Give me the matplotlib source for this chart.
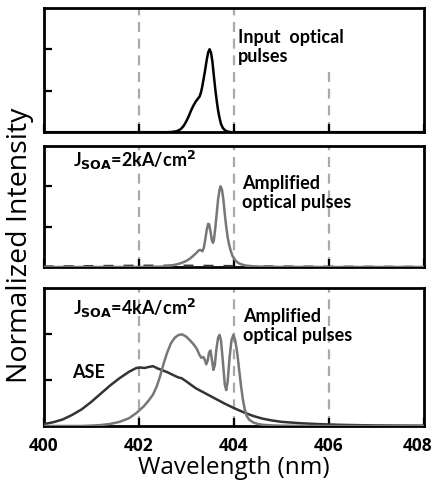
import numpy as np
import matplotlib
matplotlib.use('Agg')
import matplotlib.pyplot as plt
import matplotlib.transforms as mtransforms

# panel 1: input optical pulses
wl_in = [400.0, 402.6, 402.7, 402.8, 402.85, 402.9, 402.95, 403.0, 403.05, 403.1, 403.15, 403.2,
         403.24, 403.28, 403.31, 403.34, 403.37, 403.4, 403.43, 403.46, 403.49, 403.52, 403.55,
         403.58, 403.61, 403.64, 403.67, 403.7, 403.73, 403.77, 403.82, 403.88, 403.95, 408.0]
i_in = [0.0, 0.0, 0.003, 0.012, 0.025, 0.045, 0.08, 0.13, 0.19, 0.26, 0.32, 0.37,
        0.40, 0.43, 0.48, 0.56, 0.66, 0.76, 0.87, 0.96, 1.0, 0.96, 0.85,
        0.68, 0.52, 0.38, 0.26, 0.17, 0.10, 0.05, 0.02, 0.006, 0.0, 0.0]

# panel 2: amplified pulses at 2 kA/cm2
wl_a2 = [400.0, 402.0, 402.3, 402.5, 402.6, 402.7, 402.8, 402.9, 403.0, 403.08, 403.15, 403.22,
         403.27, 403.31, 403.34, 403.37, 403.4, 403.43, 403.46, 403.48, 403.51, 403.54, 403.56,
         403.58, 403.61, 403.64, 403.67, 403.7, 403.72, 403.75, 403.78, 403.81, 403.84, 403.87,
         403.9, 403.93, 403.97, 404.02, 404.08, 404.15, 404.25, 404.4, 404.6, 405.0, 406.0, 408.0]
i_a2 = [0.0, 0.0, 0.002, 0.006, 0.012, 0.02, 0.033, 0.05, 0.075, 0.105, 0.14, 0.18,
        0.21, 0.21, 0.195, 0.24, 0.34, 0.46, 0.535, 0.53, 0.44, 0.33, 0.30,
        0.33, 0.48, 0.66, 0.84, 0.96, 1.0, 0.96, 0.84, 0.66, 0.50, 0.37,
        0.28, 0.21, 0.14, 0.09, 0.055, 0.035, 0.018, 0.009, 0.004, 0.001, 0.0, 0.0]
wl_ase2 = [400.0, 401.0, 402.0, 403.0, 404.0, 405.0, 406.0, 408.0]
i_ase2 = [0.005, 0.01, 0.015, 0.015, 0.01, 0.004, 0.002, 0.0]

# panel 3: 4 kA/cm2
wl_ase = [400.0, 400.2, 400.4, 400.6, 400.8, 401.0, 401.2, 401.4, 401.6, 401.8, 401.95, 402.05,
          402.12, 402.2, 402.3, 402.4, 402.5, 402.6, 402.7, 402.8, 402.85, 402.9, 403.0, 403.2,
          403.4, 403.6, 403.8, 404.0, 404.2, 404.4, 404.6, 404.8, 405.0, 405.4, 405.8, 406.2,
          406.6, 407.0, 407.5, 408.0]
i_ase = [0.02, 0.04, 0.07, 0.12, 0.18, 0.26, 0.35, 0.44, 0.52, 0.59, 0.63, 0.635,
         0.63, 0.64, 0.65, 0.625, 0.605, 0.585, 0.56, 0.535, 0.525, 0.52, 0.485, 0.41,
         0.355, 0.30, 0.245, 0.195, 0.15, 0.11, 0.08, 0.06, 0.045, 0.03, 0.02, 0.013,
         0.009, 0.006, 0.004, 0.003]
wl_a4 = [400.0, 400.8, 401.0, 401.2, 401.4, 401.6, 401.8, 401.95, 402.1, 402.2, 402.3, 402.38,
         402.45, 402.52, 402.6, 402.68, 402.76, 402.84, 402.92, 403.0, 403.08, 403.15, 403.22,
         403.28, 403.32, 403.36, 403.39, 403.42, 403.45, 403.48, 403.51, 403.54, 403.57, 403.6,
         403.63, 403.67, 403.7, 403.73, 403.77, 403.81, 403.84, 403.87, 403.91, 403.95, 403.99,
         404.03, 404.07, 404.11, 404.15, 404.19, 404.23, 404.27, 404.32, 404.4, 404.5, 404.62,
         404.8, 405.0, 406.0, 408.0]
i_a4 = [0.0, 0.0, 0.004, 0.01, 0.022, 0.045, 0.085, 0.14, 0.21, 0.27, 0.34, 0.43,
        0.54, 0.67, 0.80, 0.90, 0.96, 0.99, 0.995, 0.97, 0.93, 0.89, 0.84,
        0.77, 0.74, 0.75, 0.72, 0.67, 0.71, 0.80, 0.82, 0.72, 0.61, 0.66,
        0.82, 0.96, 0.99, 0.93, 0.70, 0.45, 0.39, 0.48, 0.74, 0.93, 0.99,
        0.93, 0.80, 0.62, 0.44, 0.29, 0.18, 0.11, 0.07, 0.04, 0.022, 0.012,
        0.006, 0.003, 0.0, 0.0]

xticks = [400, 402, 404, 406, 408]
xticklabels = ['400', '402', '404', '406', '408']
grid_x = [402, 404, 406]

plt.rcParams['font.family'] = ['Lato', 'DejaVu Sans']

fig = plt.figure(figsize=(4.36, 4.86), dpi=100)
L, W = 0.0998, 0.873
ax1 = fig.add_axes([L, 0.728, W, 0.256])
ax2 = fig.add_axes([L, 0.4506, W, 0.249])
ax3 = fig.add_axes([L, 0.1235, W, 0.284])

for ax in (ax1, ax2, ax3):
    ax.set_xlim(400, 408)
    ax.set_ylim(0, 1.5)
    ax.set_xticks(xticks)
    ax.set_yticks([0.5, 1.0])
    ax.set_yticklabels([])
    for x in grid_x:
        top = 0.52 if (ax is ax1 and x == 406) else 1
        ax.axvline(x, ymax=top, color='#aaaaaa', lw=1.6, ls=(0, (4.5, 3)), zorder=1)
    for s in ax.spines.values():
        s.set_linewidth(2)
    ax.tick_params(direction='in', length=6, width=1.6, pad=8)

ax1.set_xticklabels([])
ax2.set_xticklabels([])
ax3.set_xticklabels(xticklabels, fontsize=12.5, fontweight='bold', family='Open Sans')
# keep the last label inside the figure
last = ax3.get_xticklabels()[-1]
last.set_transform(last.get_transform() +
                   mtransforms.ScaledTranslation(-5 / 72, 0, fig.dpi_scale_trans))

ax1.plot(wl_in, i_in, color='black', lw=1.8, zorder=3)
ax1.text(0.511, 0.683, 'Input  optical\npulses', transform=ax1.transAxes, fontsize=13,
         fontweight='bold', va='center', ha='left', linespacing=1.15)

ax2.plot(wl_ase2, i_ase2, color='#333333', lw=1.8, ls=(0, (4, 4)), zorder=3)
ax2.plot(wl_a2, i_a2, color='#777777', lw=1.8, zorder=3)
ax2.text(0.0775, 0.884, r'J$_{\mathbf{SOA}}$=2kA/cm$^{\mathbf{2}}$', transform=ax2.transAxes,
         fontsize=13, fontweight='bold', va='center', ha='left')
ax2.text(0.522, 0.612, 'Amplified\noptical pulses', transform=ax2.transAxes, fontsize=13,
         fontweight='bold', va='center', ha='left', linespacing=1.15)

ax3.plot(wl_ase, i_ase, color='#333333', lw=1.8, zorder=3)
ax3.plot(wl_a4, i_a4, color='#777777', lw=1.8, zorder=3)
ax3.text(0.0775, 0.855, r'J$_{\mathbf{SOA}}$=4kA/cm$^{\mathbf{2}}$', transform=ax3.transAxes,
         fontsize=13, fontweight='bold', va='center', ha='left')
ax3.text(0.524, 0.725, 'Amplified\noptical pulses', transform=ax3.transAxes, fontsize=13,
         fontweight='bold', va='center', ha='left', linespacing=1.15)
ax3.text(0.075, 0.384, 'ASE', transform=ax3.transAxes, fontsize=13,
         fontweight='bold', va='center', ha='left')

ax3.set_xlabel('Wavelength (nm)', fontsize=17.5, family='Open Sans', labelpad=1)
fig.text(0.045, 0.496, 'Normalized Intensity', rotation=90, fontsize=20.5,
         family='Open Sans', va='center', ha='center')

fig.savefig('out.png', dpi=100)
